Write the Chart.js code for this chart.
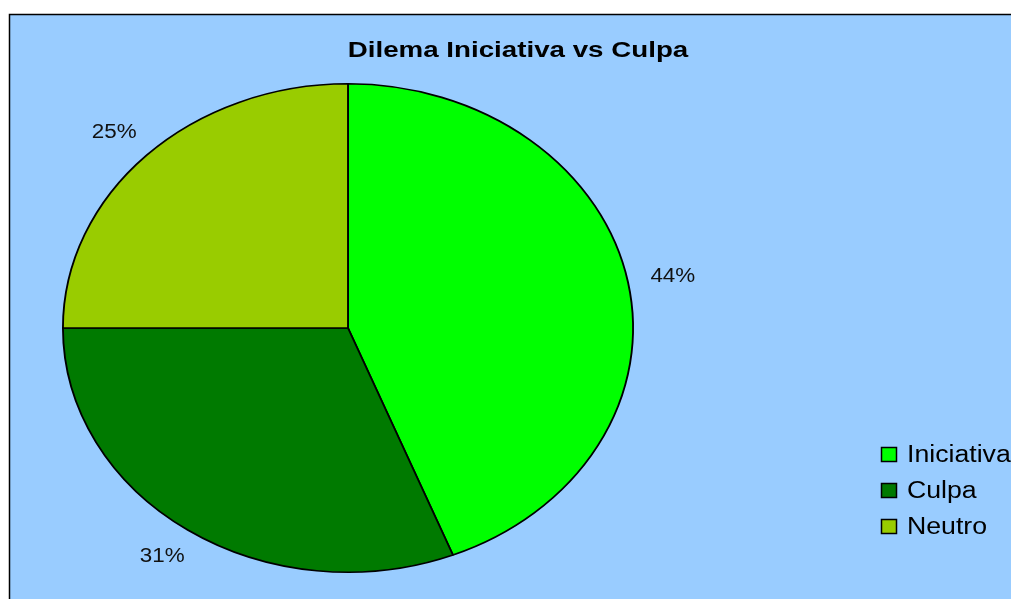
<!DOCTYPE html>
<html>
<head>
<meta charset="utf-8">
<script src="https://cdn.jsdelivr.net/npm/chart.js@4/dist/chart.umd.min.js"></script>
<style>
  html, body { margin: 0; padding: 0; background: #ffffff; }
  #wrap { width: 1011px; height: 599px; position: relative; }
</style>
</head>
<body>
<div id="wrap"><canvas id="c" width="1011" height="599"></canvas></div>
<script>
const title = 'Dilema Iniciativa vs Culpa';
const categories = ['Iniciativa', 'Culpa', 'Neutro'];
const values = [44, 31, 25];
const valueLabels = ['44%', '31%', '25%'];
const colors = ['#00FF00', '#007A00', '#99CC00'];

const ELLIPSE_SX = 286 / 245;   // horizontal stretch of the pie
const FONT = '"Liberation Sans", Arial, sans-serif';

const framePlugin = {
  id: 'frame',
  beforeDraw(chart) {
    const ctx = chart.ctx;
    ctx.save();
    ctx.fillStyle = '#ffffff';
    ctx.fillRect(0, 0, chart.width, chart.height);
    ctx.fillStyle = '#99CCFF';
    ctx.fillRect(10, 15, chart.width - 10, chart.height - 15);
    ctx.strokeStyle = '#000000';
    ctx.lineWidth = 1.5;
    ctx.beginPath();
    ctx.moveTo(9.5, chart.height);
    ctx.lineTo(9.5, 14.5);
    ctx.lineTo(chart.width, 14.5);
    ctx.stroke();
    // title
    ctx.fillStyle = '#000000';
    ctx.font = 'bold 22px ' + FONT;
    ctx.textAlign = 'center';
    ctx.textBaseline = 'alphabetic';
    ctx.translate(518, 57);
    ctx.scale(1.26, 1);
    ctx.fillText(title, 0, 0);
    ctx.restore();
  },
  beforeDatasetsDraw(chart) {
    const meta = chart.getDatasetMeta(0);
    const arc = meta.data[0];
    const ctx = chart.ctx;
    ctx.save();
    ctx.translate(arc.x, arc.y);
    ctx.scale(ELLIPSE_SX, 1);
    ctx.translate(-arc.x, -arc.y);
  },
  afterDatasetsDraw(chart) {
    const ctx = chart.ctx;
    ctx.restore();
    const meta = chart.getDatasetMeta(0);
    ctx.save();
    // value labels outside the slices
    ctx.fillStyle = '#111111';
    ctx.font = '19.5px ' + FONT;
    ctx.textAlign = 'center';
    ctx.textBaseline = 'middle';
    meta.data.forEach((a, i) => {
      const mid = (a.startAngle + a.endAngle) / 2;
      const k = 1.14;
      const px = a.x + Math.cos(mid) * a.outerRadius * (k + 0.02) * ELLIPSE_SX;
      const py = a.y + Math.sin(mid) * a.outerRadius * (k - 0.01);
      ctx.save();
      ctx.translate(px, py);
      ctx.scale(1.15, 1);
      ctx.fillText(valueLabels[i], 0, 0);
      ctx.restore();
    });
    // legend
    ctx.font = '23px ' + FONT;
    ctx.textAlign = 'left';
    ctx.textBaseline = 'alphabetic';
    categories.forEach((lab, i) => {
      const cy = 454 + i * 36;
      ctx.fillStyle = colors[i];
      ctx.fillRect(881.5, cy - 6.5, 15, 14);
      ctx.strokeStyle = '#000000';
      ctx.lineWidth = 1.5;
      ctx.strokeRect(881.5, cy - 6.5, 15, 14);
      ctx.fillStyle = '#000000';
      ctx.save();
      ctx.translate(907, cy + 8);
      ctx.scale(1.16, 1);
      ctx.fillText(lab, 0, 0);
      ctx.restore();
    });
    ctx.restore();
  }
};

new Chart(document.getElementById('c'), {
  type: 'pie',
  data: {
    labels: categories,
    datasets: [{
      data: values,
      backgroundColor: colors,
      borderColor: '#000000',
      borderWidth: 1.6,
      hoverOffset: 0
    }]
  },
  options: {
    responsive: false,
    animation: false,
    devicePixelRatio: 1,
    layout: { padding: { left: 103, top: 83, right: 418, bottom: 26 } },
    plugins: {
      legend: { display: false },
      title: { display: false },
      tooltip: { enabled: false }
    }
  },
  plugins: [framePlugin]
});
</script>
</body>
</html>
